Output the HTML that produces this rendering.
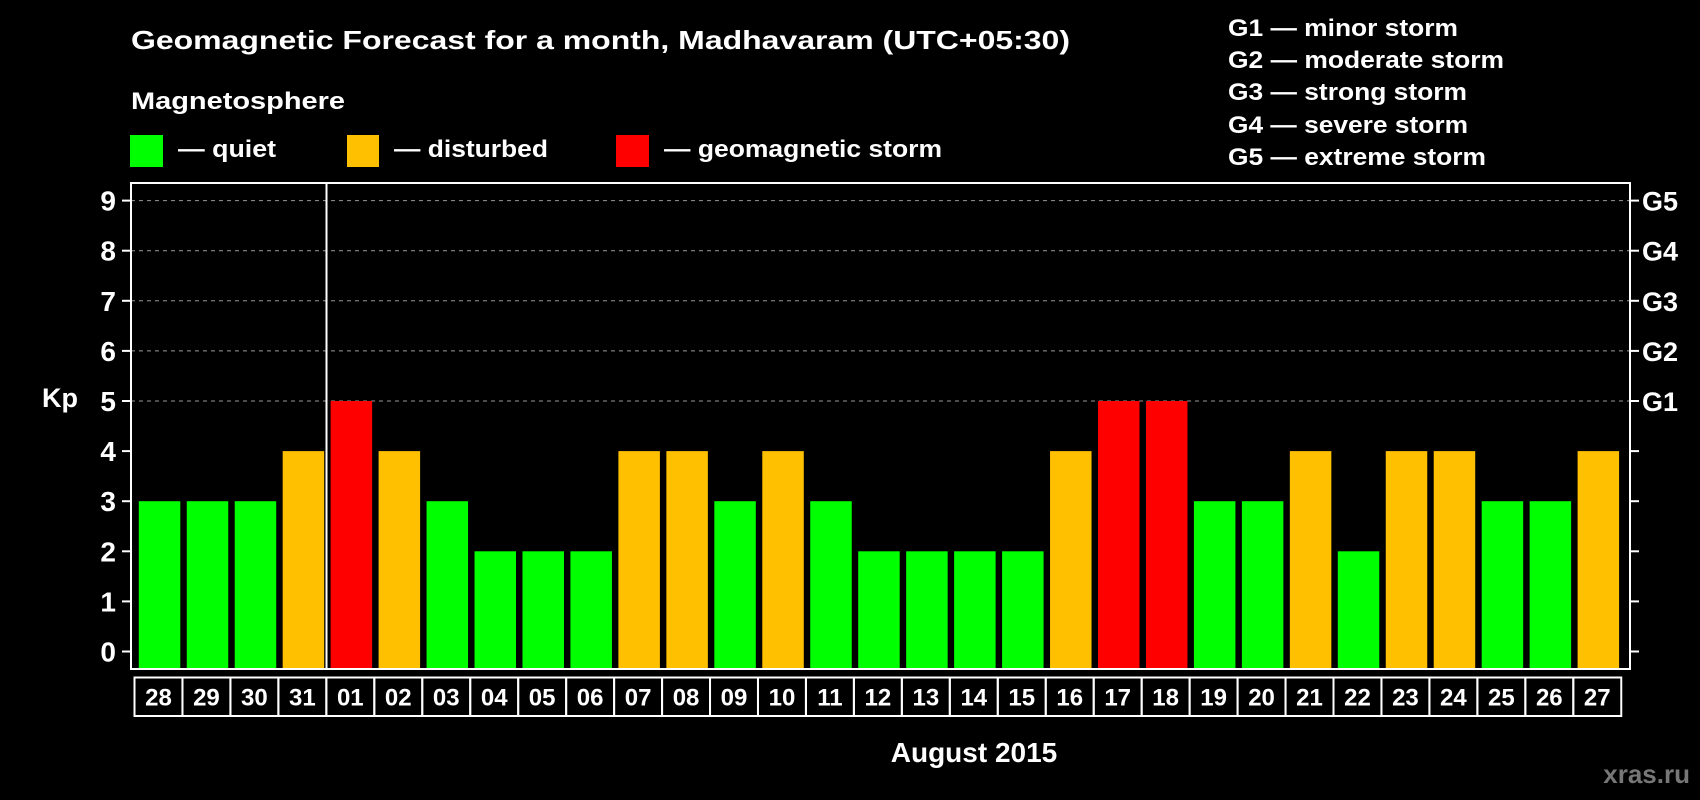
<!DOCTYPE html>
<html><head><meta charset="utf-8"><style>
html,body{margin:0;padding:0;background:#000;width:1700px;height:800px;overflow:hidden}
svg{display:block;font-family:"Liberation Sans",Arial,sans-serif;font-weight:bold}
</style></head><body>
<svg id="chart" width="1700" height="800" viewBox="0 0 1700 800" xmlns="http://www.w3.org/2000/svg">
<rect width="1700" height="800" fill="#000"/>
<text x="131" y="49" fill="#fff" font-size="26" textLength="939" lengthAdjust="spacingAndGlyphs">Geomagnetic Forecast for a month, Madhavaram (UTC+05:30)</text>
<text x="131" y="109" fill="#fff" font-size="24" textLength="214" lengthAdjust="spacingAndGlyphs">Magnetosphere</text>
<g>
<rect x="130" y="135" width="33" height="32" fill="#00ff00"/>
<text x="178" y="157" fill="#fff" font-size="24" textLength="98" lengthAdjust="spacingAndGlyphs">— quiet</text></g>
<g>
<rect x="347" y="135" width="32" height="32" fill="#ffc000"/>
<text x="394" y="157" fill="#fff" font-size="24" textLength="154" lengthAdjust="spacingAndGlyphs">— disturbed</text></g>
<g>
<rect x="616" y="135" width="33" height="32" fill="#ff0000"/>
<text x="664" y="157" fill="#fff" font-size="24" textLength="278" lengthAdjust="spacingAndGlyphs">— geomagnetic storm</text></g>
<g fill="#fff" font-size="24">
<text x="1228" y="36" textLength="230" lengthAdjust="spacingAndGlyphs">G1 — minor storm</text>
<text x="1228" y="68" textLength="276" lengthAdjust="spacingAndGlyphs">G2 — moderate storm</text>
<text x="1228" y="100" textLength="239" lengthAdjust="spacingAndGlyphs">G3 — strong storm</text>
<text x="1228" y="133" textLength="240" lengthAdjust="spacingAndGlyphs">G4 — severe storm</text>
<text x="1228" y="165" textLength="258" lengthAdjust="spacingAndGlyphs">G5 — extreme storm</text>
</g>
<g id="grid"></g>
<g id="bars"></g>
<g id="axes"></g>
<text x="42" y="407" fill="#fff" font-size="27">Kp</text>
<text x="974" y="762" fill="#fff" font-size="28" text-anchor="middle">August 2015</text>
<text x="1690" y="783" fill="#777" font-size="26" text-anchor="end">xras.ru</text>
</svg>
<script>
const days = ["28","29","30","31","01","02","03","04","05","06","07","08","09","10","11","12","13","14","15","16","17","18","19","20","21","22","23","24","25","26","27"];
const kp = [3,3,3,4,5,4,3,2,2,2,4,4,3,4,3,2,2,2,2,4,5,5,3,3,4,2,4,4,3,3,4];
const yTicks = [0,1,2,3,4,5,6,7,8,9];
const gLabels = ["G1","G2","G3","G4","G5"];
const gLevels = [5,6,7,8,9];

const NS="http://www.w3.org/2000/svg";
const L=131,R=1630,T=183,B=669;
const y0=651.5, unit=(651.5-200.6)/9;
const pitch=47.96, bx0=138.8, bw=41.5;
const cx0=134.5, cT=677.5, cH=38.5;
const yS=v=>y0-v*unit;
const xS=i=>bx0+i*pitch;
function mk(tag,attrs,parent,text){const e=document.createElementNS(NS,tag);for(const k in attrs)e.setAttribute(k,attrs[k]);if(text!==undefined)e.textContent=text;parent.appendChild(e);return e;}
const grid=document.getElementById('grid'),bars=document.getElementById('bars'),axes=document.getElementById('axes');
gLevels.forEach((v,i)=>{
  const ln=mk('line',{x1:L,x2:R,y1:yS(v),y2:yS(v),stroke:'#999','stroke-dasharray':'4,4','stroke-width':1},grid);
  
  
  const t=mk('text',{x:1642,y:yS(v)+10,fill:'#fff','font-size':27},axes,gLabels[i]);
  
  
});
kp.forEach((v,i)=>{
  const c=v>=5?'#ff0000':(v>=4?'#ffc000':'#00ff00');
  const r=mk('rect',{x:xS(i),y:yS(v),width:bw,height:B-1-yS(v),fill:c},bars);
  
  
  const cell=mk('rect',{x:cx0+i*pitch,y:cT,width:pitch,height:cH,fill:'none',stroke:'#fff','stroke-width':2},axes);
  
  
  const t=mk('text',{x:cx0+i*pitch+pitch/2,y:cT+28,fill:'#fff','font-size':24,'text-anchor':'middle'},axes,days[i]);
  
  
});
const frame=mk('rect',{x:L,y:T,width:R-L,height:B-T,fill:'none',stroke:'#fff','stroke-width':2},axes);


const sep=mk('line',{x1:326.5,x2:326.5,y1:T,y2:B,stroke:'#fff','stroke-width':2},axes);


yTicks.forEach(v=>{
  mk('line',{x1:122,x2:L,y1:yS(v),y2:yS(v),stroke:'#fff','stroke-width':2},axes);
  mk('line',{x1:R,x2:1639,y1:yS(v),y2:yS(v),stroke:'#fff','stroke-width':2},axes);
  const t=mk('text',{x:116,y:yS(v)+10,fill:'#fff','font-size':28,'text-anchor':'end'},axes,String(v));
  
  
});
</script>
</body></html>
